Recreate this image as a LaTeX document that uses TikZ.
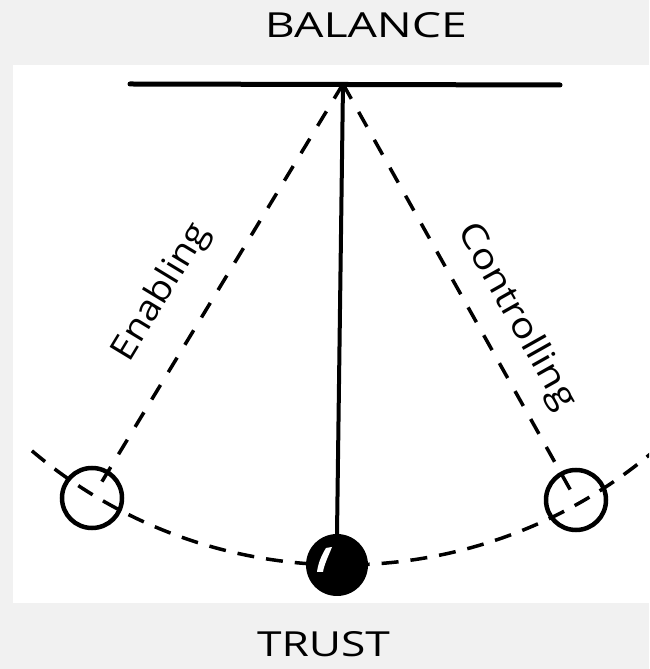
\documentclass[tikz,border=0pt]{standalone}
\usepackage{fontspec}
\setmainfont{Open Sans}
\usepackage{graphicx}
\definecolor{bgc}{HTML}{F1F1F1}
\begin{document}
\begin{tikzpicture}[x=1pt,y=1pt,
  rope/.style={line width=3.5pt, dash pattern=on 17pt off 15pt},
  swing/.style={line width=3.5pt, dash pattern=on 17pt off 12pt},
  bob/.style={circle, draw, line width=4.5pt, minimum size=60pt, inner sep=0pt},
  weight/.style={circle, fill=black, minimum size=62pt, inner sep=0pt},
  lbl/.style={inner sep=0pt, font=\fontsize{35}{35}\selectfont},
  ttl/.style={inner sep=0pt, anchor=base, font=\fontsize{35}{35}\selectfont}]
\useasboundingbox (0,0) rectangle (649,669);
\fill[bgc] (0,0) rectangle (649,669);
\fill[white] (13,66) rectangle (649,604);
\coordinate (pivot) at (343,585);
\coordinate (barL) at (130,585);
\coordinate (barR) at (560,584);
\begin{scope}
  \clip (13,66) rectangle (649,604);
  \draw[swing] (pivot) ++(229.7:481) arc[start angle=229.7, end angle=313, radius=481];
\end{scope}
\node[bob] (lbob) at (92,171) {};
\node[bob] (rbob) at (576,169) {};
\draw[rope, shorten >=12pt] (pivot) -- (lbob.center);
\draw[rope, shorten >=12pt] (pivot) -- (rbob.center);
\draw[line width=5pt, line cap=round] (barL) -- (barR);
\node[weight] (ball) at (337,104) {};
\draw[line width=4pt] (pivot) -- (ball.north);
\fill[white] (326,121) -- (332,122) .. controls (328,112) and (324,104) .. (323,97) -- (317,97) .. controls (318,105) and (321,113) .. cycle;
\node[lbl, rotate=58.8] (enab) at (161.5,376.5) {\resizebox{154pt}{\height}{Enabling}};
\node[lbl, rotate=-60.6] (ctrl) at (516,352) {\resizebox{208pt}{\height}{Controlling}};
\node[ttl] (bal) at (366,631) {\resizebox{202pt}{25pt}{BALANCE}};
\node[ttl] (trust) at (323.5,12) {\resizebox{133pt}{25pt}{TRUST}};
\end{tikzpicture}
\end{document}
